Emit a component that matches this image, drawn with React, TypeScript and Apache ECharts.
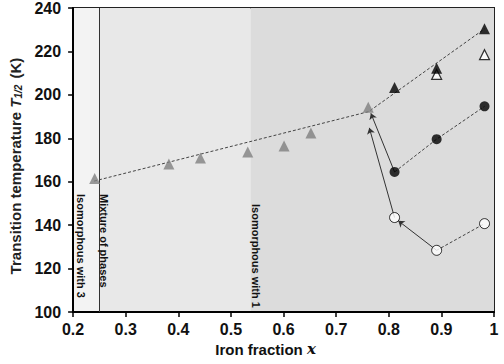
import React, { useEffect, useRef } from "react";
import * as echarts from "echarts";

// Iron fraction x and spin-transition temperatures T1/2 (K)
const mixedX = [0.241, 0.382, 0.442, 0.532, 0.601, 0.652, 0.761];
const mixedT = [161.5, 168.2, 170.9, 173.7, 176.4, 182.4, 194.3];

const solidTriX = [0.811, 0.891, 0.982];
const solidTriT = [203.4, 212.3, 230.4];

const openTriX = [0.891, 0.982];
const openTriT = [209.4, 218.5];

const solidCircX = [0.811, 0.891, 0.982];
const solidCircT = [164.5, 179.6, 194.7];

const openCircX = [0.811, 0.891, 0.982];
const openCircT = [143.5, 128.4, 140.7];

// dashed guide through the mixed-crystal series
const trendX = [0.24, 0.762, 0.982];
const trendT = [160.3, 192.3, 230.4];

// arrows: [fromX, fromT, toX, toT]
const arrows = [
  [0.811, 164.5, 0.766, 191.5],
  [0.811, 143.5, 0.763, 184.8],
  [0.891, 128.4, 0.818, 142.0],
];

// composition regions
const regionBounds = [0.2, 0.25, 0.537, 1.0];
const regionColors = ["#f3f3f3", "#e8e8e8", "#dcdcdc"];
const phaseBoundary = 0.25;

const xTicks = { min: 0.2, max: 1, step: 0.1 };
const yTicks = { min: 100, max: 240, step: 20 };

const zip = (xs: number[], ys: number[]) => xs.map((x, i) => [x, ys[i]]);

export default function App() {
  const ref = useRef<HTMLDivElement>(null);

  useEffect(() => {
    if (!ref.current) return;
    const chart = echarts.init(ref.current, null, { renderer: "svg" });

    const dash = { type: [3, 2] as any, color: "#444", width: 1 };
    const font = "Liberation Sans, Arial, sans-serif";
    const noteFont = "bold 11px Liberation Sans, Arial, sans-serif";

    const note = (text: string, x: number, y: number) => ({
      type: "text",
      x,
      y,
      rotation: -Math.PI / 2,
      z: 10,
      style: { text, font: noteFont, fill: "#111", align: "left", verticalAlign: "middle" },
    });

    chart.setOption({
      animation: false,
      backgroundColor: "#ffffff",
      grid: {
        left: 68,
        right: 10,
        top: 6,
        bottom: 52,
        show: true,
        borderColor: "#222",
        borderWidth: 2,
        backgroundColor: "transparent",
      },
      xAxis: {
        type: "value",
        min: xTicks.min,
        max: xTicks.max,
        interval: xTicks.step,
        splitLine: { show: false },
        axisLine: { lineStyle: { color: "#000", width: 2 } },
        axisTick: { show: true, length: 5, lineStyle: { color: "#000", width: 1.5 } },
        axisLabel: {
          margin: 9,
          color: "#111",
          fontFamily: font,
          fontWeight: "bold",
          fontSize: 16,
          formatter: (v: number) => String(+v.toFixed(1)),
        },
        name: "{n|Iron fraction }{x|x}",
        nameLocation: "middle",
        nameGap: 27,
        nameTextStyle: {
          padding: [0, 36, 0, 0],
          rich: {
            n: { fontFamily: font, fontWeight: "bold", fontSize: 15, color: "#111" },
            x: { fontFamily: "DejaVu Serif, serif", fontStyle: "italic", fontWeight: "bold", fontSize: 15, color: "#111" },
          },
        },
      },
      yAxis: {
        type: "value",
        min: yTicks.min,
        max: yTicks.max,
        interval: yTicks.step,
        splitLine: { show: false },
        axisLine: { show: true, lineStyle: { color: "#000", width: 2 } },
        axisTick: { show: true, length: 5, lineStyle: { color: "#000", width: 1.5 } },
        axisLabel: {
          margin: 12,
          color: "#111",
          fontFamily: font,
          fontWeight: "bold",
          fontSize: 16,
        },
        name: "{n|Transition temperature }{t|T}{s|1/2}{n| (K)}",
        nameLocation: "middle",
        nameGap: 43,
        nameRotate: 90,
        nameTextStyle: {
          padding: [0, 12, 0, 0],
          rich: {
            n: { fontFamily: font, fontWeight: "bold", fontSize: 15, color: "#222" },
            t: { fontFamily: font, fontStyle: "italic", fontWeight: "bold", fontSize: 15, color: "#222" },
            s: { fontFamily: font, fontStyle: "italic", fontWeight: "bold", fontSize: 10, color: "#222", padding: [6, 2, 0, 0] },
          },
        },
      },
      series: [
        {
          type: "line",
          data: zip(trendX, trendT),
          symbol: "none",
          lineStyle: dash,
          z: 3,
          markArea: {
            silent: true,
            z: 0,
            data: regionColors.map((c, i) => [
              { xAxis: regionBounds[i], itemStyle: { color: c } },
              { xAxis: regionBounds[i + 1] },
            ]),
          },
          markLine: {
            silent: true,
            symbol: "none",
            label: { show: false },
            lineStyle: { color: "#333", width: 1, type: "solid" },
            data: [{ xAxis: phaseBoundary }],
          },
        },
        {
          type: "line",
          data: zip(solidCircX, solidCircT),
          symbol: "none",
          lineStyle: dash,
          z: 3,
        },
        {
          type: "line",
          data: zip(openCircX.slice(1), openCircT.slice(1)),
          symbol: "none",
          lineStyle: dash,
          z: 3,
        },
        {
          type: "lines",
          coordinateSystem: "cartesian2d",
          symbol: ["none", "arrow"],
          symbolSize: 6,
          lineStyle: { color: "#333", width: 1, type: "solid", opacity: 1 },
          data: arrows.map((a) => ({ coords: [[a[0], a[1]], [a[2], a[3]]] })),
          z: 3,
        },
        {
          type: "scatter",
          data: zip(mixedX, mixedT),
          symbol: "triangle",
          symbolSize: 11,
          itemStyle: { color: "#7f7f7f" },
          z: 5,
        },
        {
          type: "scatter",
          data: zip(openTriX, openTriT),
          symbol: "triangle",
          symbolSize: 10,
          itemStyle: { color: "#ffffff", borderColor: "#000", borderWidth: 1.2 },
          z: 5,
        },
        {
          type: "scatter",
          data: zip(solidTriX, solidTriT),
          symbol: "triangle",
          symbolSize: 11,
          itemStyle: { color: "#000" },
          z: 6,
        },
        {
          type: "scatter",
          data: zip(solidCircX, solidCircT),
          symbol: "circle",
          symbolSize: 10,
          itemStyle: { color: "#000" },
          z: 5,
        },
        {
          type: "scatter",
          data: zip(openCircX, openCircT),
          symbol: "circle",
          symbolSize: 10,
          itemStyle: { color: "#fff", borderColor: "#000", borderWidth: 1 },
          z: 5,
        },
      ],
      graphic: [
        note("Isomorphous with 3", 81, 194),
        note("Mixture of phases", 104, 194),
        note("Isomorphous with 1", 256, 204),
      ],
    });

    return () => chart.dispose();
  }, []);

  return <div ref={ref} style={{ width: 504, height: 364, position: "absolute", left: 0, top: 0 }} />;
}
